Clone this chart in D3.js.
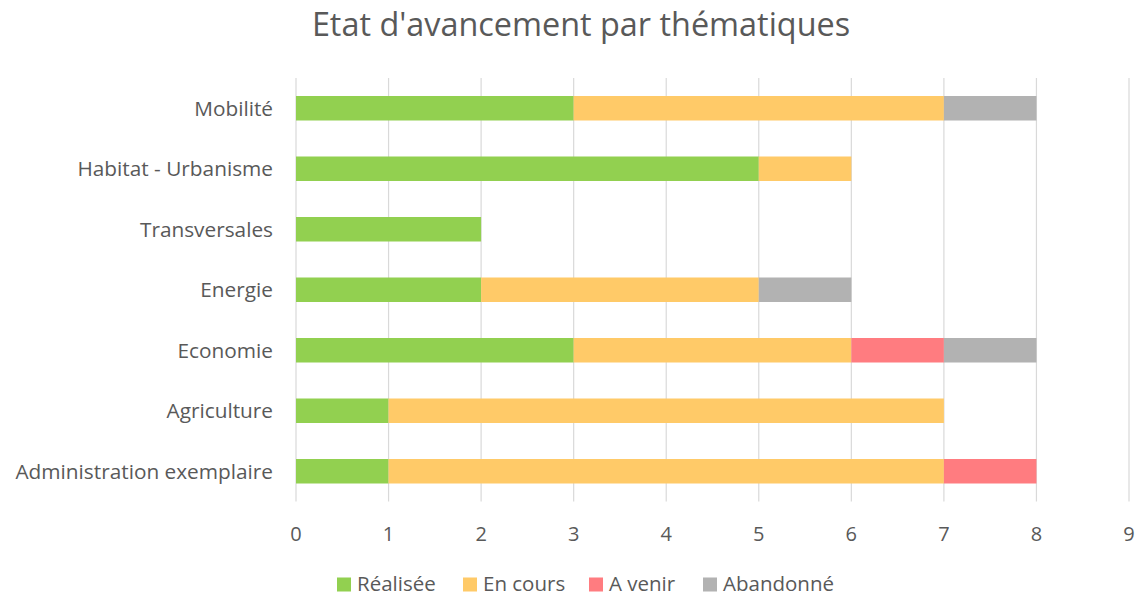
<!DOCTYPE html>
<html><head><meta charset="utf-8">
<script src="https://cdn.jsdelivr.net/npm/d3@7"></script>
<style>body{margin:0;background:#fff;} svg{display:block;font-family:"Open Sans","Noto Sans",sans-serif;}</style>
</head><body>
<svg id="c" width="1136" height="596"></svg>
<script>
const title = "Etat d'avancement par thématiques";
const categories = ["Mobilité","Habitat - Urbanisme","Transversales","Energie","Economie","Agriculture","Administration exemplaire"];
const seriesNames = ["Réalisée","En cours","A venir","Abandonné"];
const realisee = [3,5,2,2,3,1,1];
const enCours  = [4,1,0,3,3,6,6];
const aVenir   = [0,0,0,0,1,0,1];
const abandonne= [1,0,0,1,1,0,0];
const xTicks = [0,1,2,3,4,5,6,7,8,9];
const colors = ["#92D050","#FFCA68","#FF7C80","#B2B2B2"];

(function(){
const svg = d3.select("#c");
const pL=296, pR=1129, pT=78, pB=501.5;
const x = d3.scaleLinear().domain([0,9]).range([pL,pR]);
const y = d3.scaleBand().domain(categories).range([pT,pB]).paddingInner(0.595).paddingOuter(0.2975);

svg.append("text").attr("x",581).attr("y",36).attr("text-anchor","middle")
  .attr("font-size",32.4).attr("fill","#595959").text(title);

svg.append("g").selectAll("line").data(xTicks).join("line")
  .attr("x1",d=>x(d)).attr("x2",d=>x(d)).attr("y1",pT).attr("y2",pB)
  .attr("stroke","#D9D9D9").attr("stroke-width",1.2);

const rows = categories.map((c,i)=>({c, vals:[realisee[i],enCours[i],aVenir[i],abandonne[i]]}));
const stackData = d3.stack().keys([0,1,2,3]).value((d,k)=>d.vals[k])(rows);

svg.append("g").selectAll("g").data(stackData).join("g")
  .attr("fill",(d,i)=>colors[i])
  .selectAll("rect").data(d=>d.filter(s=>s[1]>s[0])).join("rect")
  .attr("x",d=>x(d[0])).attr("width",d=>x(d[1])-x(d[0]))
  .attr("y",d=>y(d.data.c)).attr("height",y.bandwidth());

svg.append("g").selectAll("text").data(xTicks).join("text")
  .attr("x",d=>x(d)).attr("y",534).attr("dy","0.35em").attr("text-anchor","middle")
  .attr("font-size",20).attr("fill","#595959").text(d=>d);

svg.append("g").selectAll("text").data(categories).join("text")
  .attr("x",273).attr("y",d=>y(d)+y.bandwidth()/2).attr("dy","0.35em").attr("text-anchor","end")
  .attr("font-size",20.8).attr("fill","#595959").text(d=>d);

const legX=[337,463,589,703];
const lg = svg.append("g").selectAll("g").data(seriesNames).join("g")
  .attr("transform",(d,i)=>`translate(${legX[i]},584)`);
lg.append("rect").attr("x",0).attr("y",-6.5).attr("width",14).attr("height",14).attr("fill",(d,i)=>colors[i]);
lg.append("text").attr("x",20).attr("dy","0.35em").attr("font-size",20.5).attr("fill","#595959").text(d=>d);
})();
</script>
</body></html>
